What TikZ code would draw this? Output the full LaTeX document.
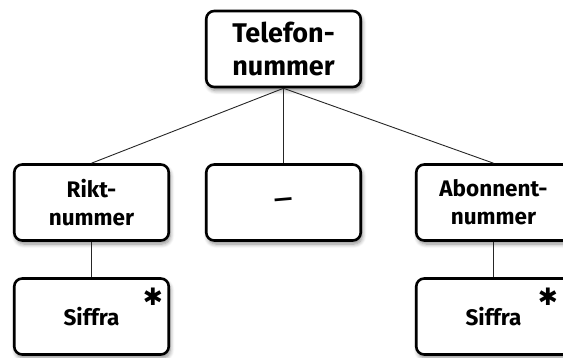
\documentclass[tikz,border=0pt]{standalone}
\usepackage{fontspec}
\setmainfont{Fira Sans}
\newfontfamily\symfont{DejaVu Sans}
\usetikzlibrary{shadows.blur}
\begin{document}
\begin{tikzpicture}[x=1pt,y=-1pt,
  box/.style={draw=black, line width=2.6pt, rounded corners=8pt, fill=white,
    minimum width=154.5pt, minimum height=76pt, align=center, inner sep=2pt,
    blur shadow={shadow xshift=1.5pt, shadow yshift=-3.5pt, shadow blur steps=6, shadow blur radius=4pt, shadow opacity=45}},
  smalltxt/.style={font=\fontsize{22.5}{28}\selectfont\bfseries},
  bigtxt/.style={font=\fontsize{27}{33}\selectfont\bfseries},
  conn/.style={draw=black!85, line width=0.9pt},
  star/.style={font=\symfont\fontsize{24}{24}\selectfont, inner sep=0pt}
]
\useasboundingbox[clip] (0,0) rectangle (563,358);
\node[box, bigtxt] (tel) at (283.5,49) {Telefon-\\nummer};
\node[box, smalltxt] (rikt) at (91.5,202.5) {Rikt-\\nummer};
\node[box, smalltxt] (mid) at (283.5,202.5) {\rotatebox{5}{—}};
\node[box, smalltxt] (abo) at (493.5,202.5) {Abonnent-\\nummer};
\node[box, smalltxt] (sif1) at (91.5,316.5) {Siffra};
\node[box, smalltxt] (sif2) at (493.5,316.5) {Siffra};
\node[star] (st1) at (153,297) {✱};
\node[star] (st2) at (548,297) {✱};
\draw[conn] (tel.south) -- (rikt.north);
\draw[conn] (tel.south) -- (mid.north);
\draw[conn] (tel.south) -- (abo.north);
\draw[conn] (rikt.south) -- (sif1.north);
\draw[conn] (abo.south) -- (sif2.north);
\end{tikzpicture}
\end{document}
